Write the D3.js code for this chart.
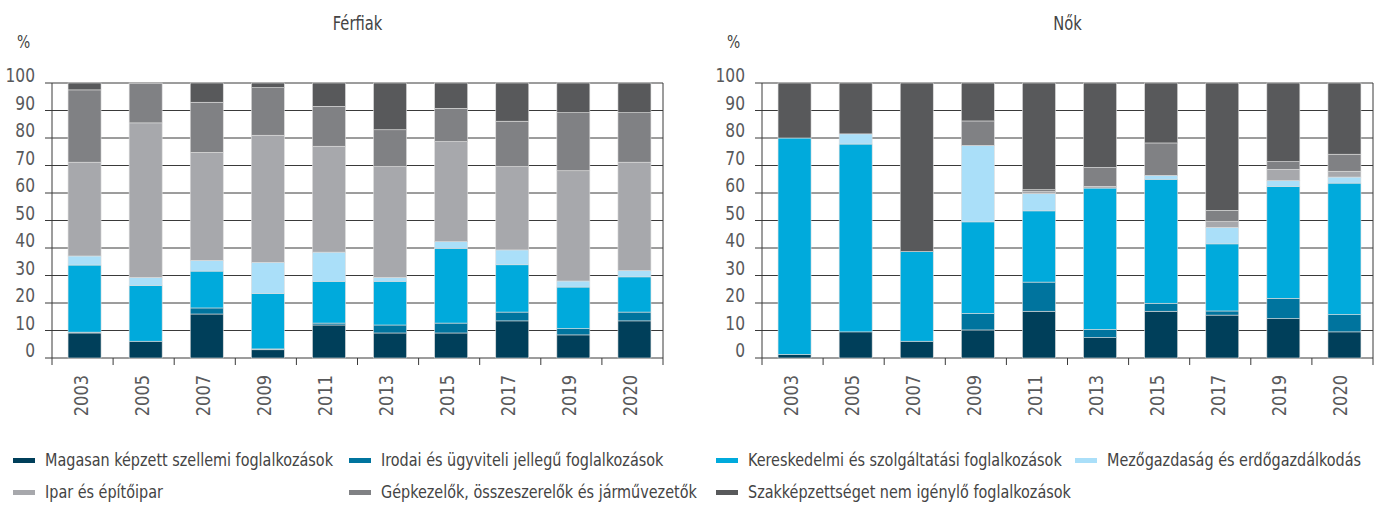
<!DOCTYPE html>
<html><head><meta charset="utf-8">
<script src="https://cdn.jsdelivr.net/npm/d3@7"></script>
<style>
body{margin:0;background:#fff;}
svg text{font-family:"DejaVu Sans Condensed","DejaVu Sans",sans-serif;font-stretch:condensed;fill:#58595b;}
</style></head>
<body><svg id="c" width="1379" height="505"></svg>
<script>
const years = ["2003","2005","2007","2009","2011","2013","2015","2017","2019","2020"];
const seriesNames = [
  "Magasan képzett szellemi foglalkozások",
  "Irodai és ügyviteli jellegű foglalkozások",
  "Kereskedelmi és szolgáltatási foglalkozások",
  "Mezőgazdaság és erdőgazdálkodás",
  "Ipar és építőipar",
  "Gépkezelők, összeszerelők és járművezetők",
  "Szakképzettséget nem igénylő foglalkozások"
];
const colors = ["#003f5a","#00749e","#00aadc","#aadff9","#a7a8ac","#808184","#58595b"];
const yTicks = [0,10,20,30,40,50,60,70,80,90,100];

// Férfiak, per series, per year
const ferfiMagasan  = [9.1, 6.1, 16.0, 3.0, 12.0, 9.1, 9.1, 13.5, 8.4, 13.5];
const ferfiIrodai   = [0.3, 0.0, 2.2, 0.3, 0.7, 2.9, 3.6, 3.2, 2.3, 3.2];
const ferfiKeresk   = [24.4, 20.3, 13.4, 20.1, 15.2, 15.9, 27.2, 17.2, 15.1, 12.8];
const ferfiMezog    = [3.3, 2.9, 3.9, 11.4, 10.6, 1.4, 2.4, 5.4, 2.2, 2.3];
const ferfiIpar     = [34.1, 56.2, 39.3, 46.2, 38.5, 40.3, 36.4, 30.3, 40.1, 39.4];
const ferfiGepkez   = [26.3, 14.3, 18.2, 17.3, 14.5, 13.4, 12.1, 16.5, 21.1, 18.0];
const ferfiSzak     = [2.5, 0.2, 7.0, 1.7, 8.5, 17.0, 9.2, 13.9, 10.8, 10.8];

// Nők
const noMagasan  = [1.3, 9.5, 6.1, 10.2, 17.0, 7.4, 17.0, 15.6, 14.3, 9.5];
const noIrodai   = [0.0, 0.0, 0.0, 6.0, 10.6, 3.0, 2.9, 1.5, 7.4, 6.3];
const noKeresk   = [78.7, 68.3, 32.6, 33.3, 25.9, 51.4, 45.1, 24.4, 40.7, 47.8];
const noMezog    = [0.0, 3.7, 0.0, 27.8, 6.3, 0.0, 1.4, 6.0, 2.1, 2.2];
const noIpar     = [0.0, 0.0, 0.0, 0.0, 0.7, 0.6, 0.0, 2.1, 4.1, 2.1];
const noGepkez   = [0.0, 0.0, 0.0, 8.9, 0.7, 6.9, 11.8, 4.1, 2.8, 6.2];
const noSzak     = [20.0, 18.5, 61.3, 13.8, 38.8, 30.7, 21.8, 46.3, 28.6, 25.9];

const ferfi = [ferfiMagasan, ferfiIrodai, ferfiKeresk, ferfiMezog, ferfiIpar, ferfiGepkez, ferfiSzak];
const no = [noMagasan, noIrodai, noKeresk, noMezog, noIpar, noGepkez, noSzak];

const svg = d3.select("#c");
const SX = 0.86; // horizontal compression to mimic narrow font
const LSX = 0.89;

function rows(arrs){
  return years.map((y,i)=>{const o={year:y}; arrs.forEach((a,k)=>o["s"+k]=a[i]); return o;});
}

function panel(title, arrs, x0, x1){
  const top=83, bottom=358;
  const g = svg.append("g");
  const x = d3.scaleBand().domain(years).range([x0,x1]).padding(0);
  const y = d3.scaleLinear().domain([0,100]).range([bottom,top]);
  // title
  g.append("text").attr("transform",`translate(${(x0+x1)/2},30) scale(${SX},1)`).attr("text-anchor","middle")
    .style("font-size","19px").style("fill","#444").text(title);
  g.append("text").attr("transform",`translate(${x0-35},48) scale(${SX},1)`).attr("text-anchor","start")
    .style("font-size","18px").style("fill","#444").text("%");
  // gridlines
  g.append("g").selectAll("line").data(yTicks).join("line")
    .attr("x1",x0-7).attr("x2",x1).attr("y1",d=>y(d)).attr("y2",d=>y(d))
    .attr("stroke","#3a3a3a").attr("stroke-width",1);
  // y labels
  g.append("g").selectAll("text").data(yTicks).join("text")
    .attr("transform",d=>`translate(${x0-17},${y(d)-1}) scale(${SX},1)`).attr("text-anchor","end")
    .style("font-size","20px").text(d=>d);
  // stacked bars
  const keys = arrs.map((a,k)=>"s"+k);
  const stack = d3.stack().keys(keys)(rows(arrs));
  const bw = 33;
  g.append("g").selectAll("g").data(stack).join("g").attr("fill",(d,i)=>colors[i])
    .selectAll("rect").data(d=>d).join("rect")
    .attr("x",d=>x(d.data.year)+(x.bandwidth()-bw)/2+2)
    .attr("width",bw)
    .attr("y",d=>y(d[1])).attr("height",d=>Math.max(0,y(d[0])-y(d[1])))
    .attr("stroke","#dcdcdc").attr("stroke-width",0.6);
  // axes lines
  g.append("line").attr("x1",x0).attr("x2",x0).attr("y1",top).attr("y2",bottom+7).attr("stroke","#3a3a3a");
  g.append("line").attr("x1",x1).attr("x2",x1).attr("y1",top).attr("y2",bottom+7).attr("stroke","#3a3a3a");
  const bounds = years.map(d=>x(d)).slice(1);
  g.append("g").selectAll("line").data(bounds).join("line")
    .attr("x1",d=>d).attr("x2",d=>d).attr("y1",bottom).attr("y2",bottom+7).attr("stroke","#3a3a3a");
  // x labels
  g.append("g").selectAll("text").data(years).join("text")
    .attr("transform",d=>`translate(${x(d)+x.bandwidth()/2+5},375) rotate(-90) scale(${SX+0.04},1)`)
    .attr("text-anchor","end").style("font-size","20px").text(d=>d);
}

panel("Férfiak", ferfi, 52, 663);
panel("Nők", no, 762, 1373);

// legend
const legendItems = [
  {i:0,x:13,row:0},{i:1,x:349,row:0},{i:2,x:716,row:0},{i:3,x:1075,row:0},
  {i:4,x:13,row:1},{i:5,x:349,row:1},{i:6,x:716,row:1}
];
const lg = svg.append("g");
const rowY = [466, 498];
legendItems.forEach(it=>{
  lg.append("rect").attr("x",it.x).attr("y",rowY[it.row]-8).attr("width",22).attr("height",5).attr("fill",colors[it.i]);
  lg.append("text").attr("transform",`translate(${it.x+32},${rowY[it.row]}) scale(${LSX},1)`)
    .style("font-size","18px").style("fill","#444").text(seriesNames[it.i]);
});
</script></body></html>
